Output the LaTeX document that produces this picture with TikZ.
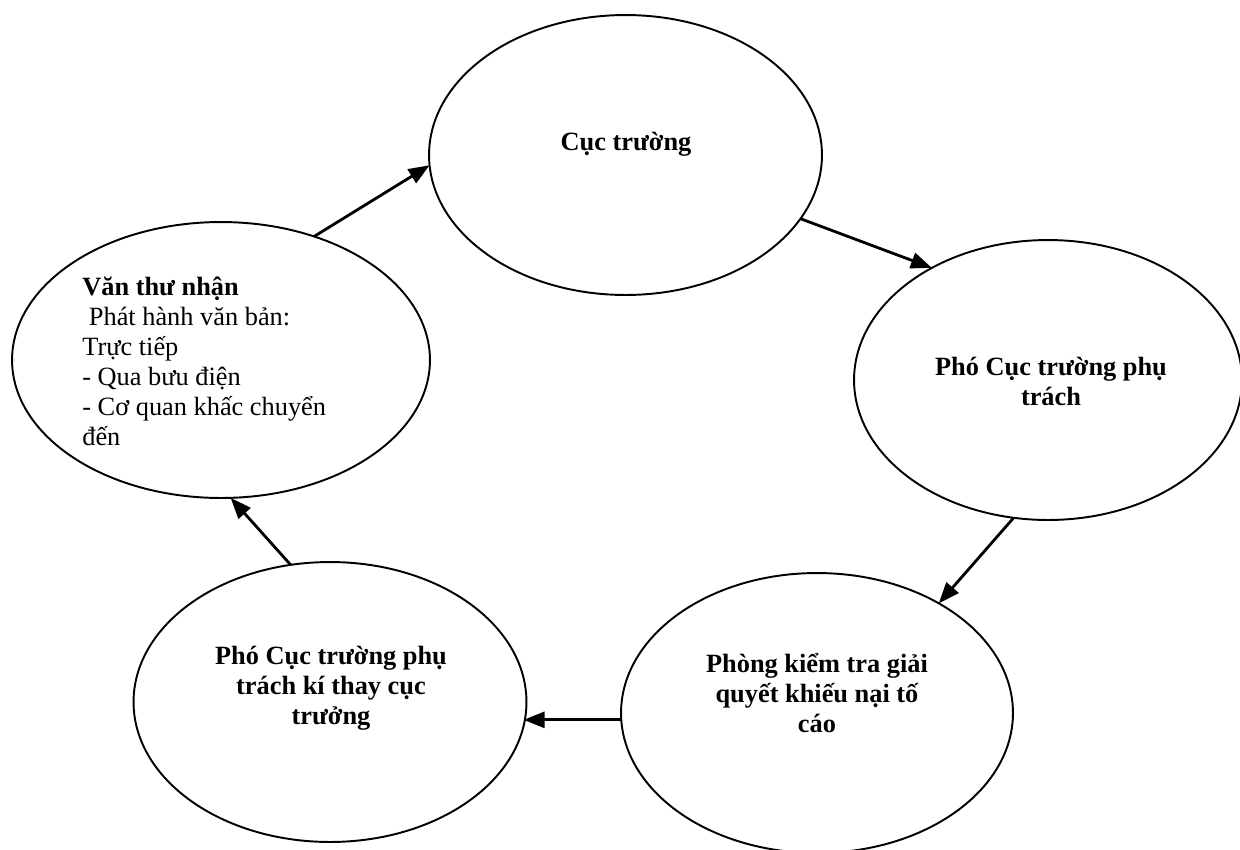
\documentclass[tikz,border=0pt]{standalone}
\usepackage{fontspec}
\setmainfont{Liberation Serif}
\usetikzlibrary{shapes.geometric,arrows.meta}
\begin{document}
\begin{tikzpicture}[x=0.02cm,y=-0.02cm]
  % outline of the ellipses, the texts and the arrows
  \tikzstyle{bubble}=[ellipse,draw,line width=1.1pt,inner sep=0pt,outer sep=0pt]
  \tikzstyle{lbl}=[font=\fontsize{15}{17}\selectfont\bfseries,align=center,inner sep=0pt,anchor=north]
  \tikzstyle{flow}=[line width=1.6pt,-{Triangle[length=0.42cm,width=0.32cm]}]
  \useasboundingbox (0,0) rectangle (1240,849);
  \clip (0,0) rectangle (1240,849);

  % Draw the ellipses
  \node [bubble,minimum width=7.86cm,minimum height=5.6cm]  (CT) at (625.5,155) {};
  \node [bubble,minimum width=7.76cm,minimum height=5.6cm]  (PR) at (1048,380) {};
  \node [bubble,minimum width=7.84cm,minimum height=5.6cm]  (PH) at (817,713) {};
  \node [bubble,minimum width=7.86cm,minimum height=5.6cm]  (PK) at (330,702) {};
  \node [bubble,minimum width=8.36cm,minimum height=5.52cm] (VT) at (221,360) {};

  % texts
  \node [lbl] (tCT) at (626,132) {Cục trường};
  \node [lbl] (tPR) at (1051,357) {Phó Cục trường phụ\\trách};
  \node [lbl] (tPH) at (817,653) {Phòng kiểm tra giải\\quyết khiếu nại tố\\cáo};
  \node [lbl] (tPK) at (331,646) {Phó Cục trường phụ\\trách kí thay cục\\trưởng};
  \node [lbl,anchor=north west,align=left,font=\fontsize{15}{17}\selectfont] (tVT) at (82,277)
    {\textbf{Văn thư nhận}\\\hspace*{0.25em}Phát hành văn bản:\\Trực tiếp\\- Qua bưu điện\\- Cơ quan khấc chuyển\\đến};

  % arrows round the cycle
  \draw [flow] (VT.53)    -- (CT.183.8);
  \draw [flow] (CT.340.6) -- (PR.136.2);
  \draw [flow] (PR.256.2) -- (PH.42.4);
  \draw [flow] (PH.182.9) -- (PK.353.6 |- PH.182.9);
  \draw [flow] (PK.106.7) -- (VT.274.5);
\end{tikzpicture}
\end{document}
